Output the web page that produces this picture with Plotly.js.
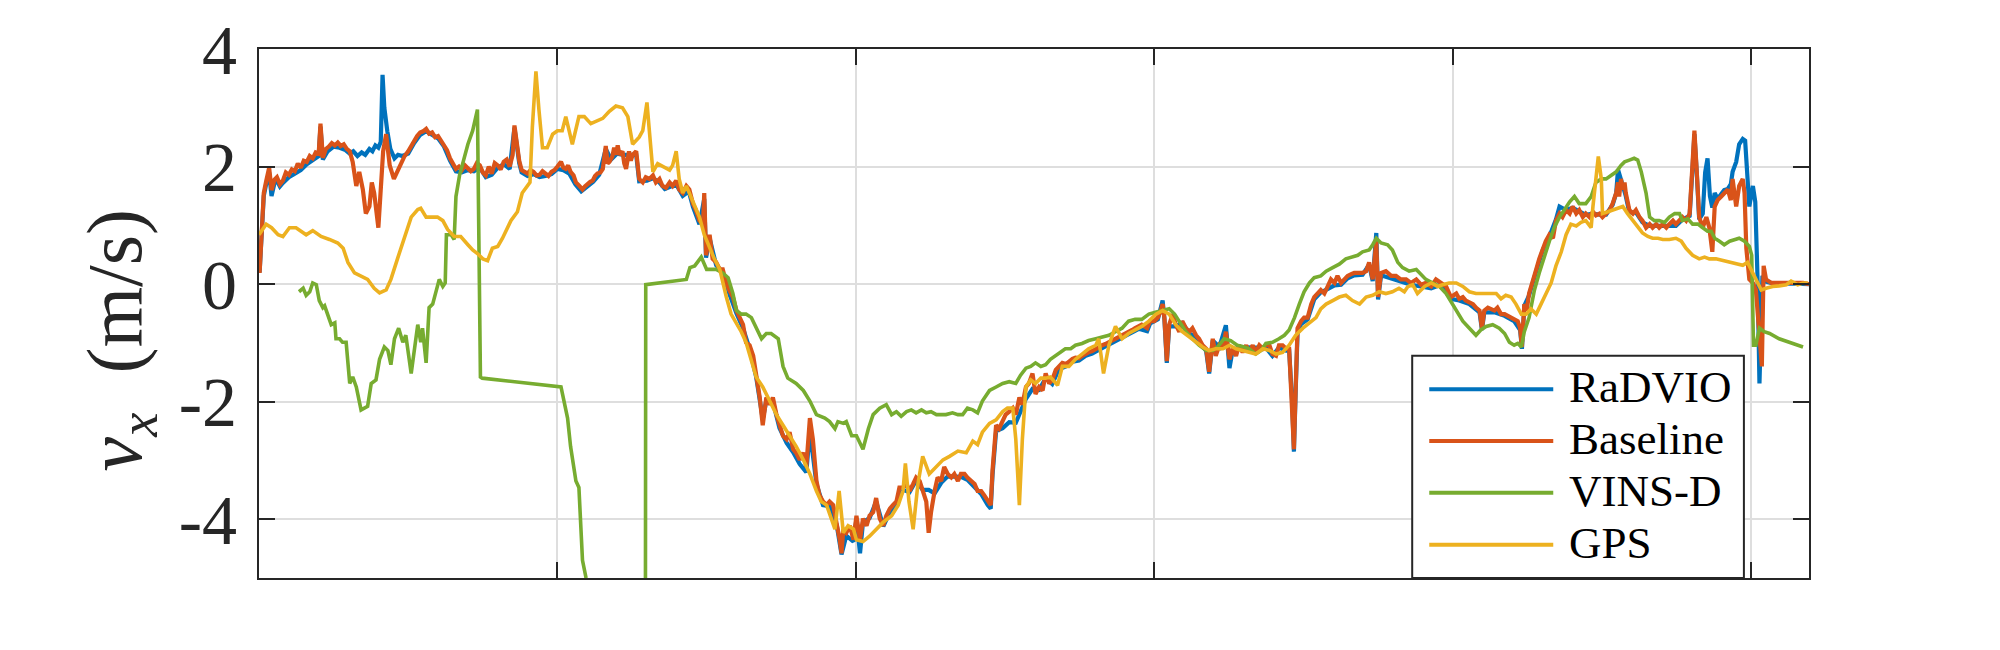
<!DOCTYPE html>
<html>
<head>
<meta charset="utf-8">
<script src="https://cdn.plot.ly/plotly-3.0.1.min.js"></script>
<style>
  html, body { margin: 0; padding: 0; background: #fff; }
  #grafica { width: 2000px; height: 650px; }
</style>
</head>
<body>
<div id="grafica"></div>
<script>
// [t, v_x] (t in s, grid every 50 s)
const radvio = [
  [0.1,0.2],[0.5,1.15],[0.8,1.5],[1.2,1.7],[1.7,1.9],[2.1,1.5],[2.6,1.72],[3.0,1.76],[3.5,1.66],[4.0,1.72],
  [5.0,1.82],[6.0,1.88],[7.0,1.94],[8.0,2.04],[9.0,2.1],[10.0,2.18],[10.3,2.68],[10.7,2.12],[11.5,2.26],[12.5,2.34],
  [13.5,2.32],[14.5,2.28],[15.2,2.22],[15.8,2.26],[16.5,2.18],[17.2,2.24],[17.8,2.2],[18.5,2.3],[19.0,2.26],[19.5,2.36],
  [20.0,2.32],[20.4,2.42],[20.7,3.56],[21.0,3.0],[21.5,2.6],[22.0,2.3],[22.7,2.14],[23.3,2.2],[24.0,2.18],[25.0,2.22],
  [26.0,2.4],[27.0,2.54],[28.0,2.6],[29.0,2.54],[30.0,2.48],[31.0,2.34],[32.0,2.1],[33.0,1.92],[34.0,1.9],[35.0,1.94],
  [36.0,1.92],[37.0,1.98],[38.0,1.82],[39.0,1.86],[40.0,1.98],[41.0,2.04],[42.0,1.96],[42.8,2.66],[43.6,2.06],[44.0,1.9],
  [45.0,1.84],[46.0,1.87],[47.0,1.82],[48.0,1.84],[49.0,1.87],[50.0,1.96],[51.0,1.94],[52.0,1.88],[53.0,1.7],[54.0,1.58],
  [55.0,1.66],[56.0,1.74],[57.0,1.86],[58.1,2.3],[59.0,2.12],[60.0,2.22],[61.0,2.2],[62.0,2.2],[63.2,2.2],[63.7,1.75],
  [65.0,1.76],[66.0,1.8],[67.0,1.74],[68.0,1.62],[69.0,1.66],[70.0,1.68],[71.0,1.5],[72.0,1.58],[72.7,1.32],[73.8,1.02],
  [74.6,1.45],[74.9,0.45],[75.5,0.78],[76.6,0.32],[77.7,0.2],[78.8,-0.16],[80.0,-0.5],[81.1,-0.75],[82.2,-1.1],[83.3,-1.58],
  [84.4,-2.3],[85.0,-1.98],[86.1,-2.0],[87.2,-2.45],[88.4,-2.7],[89.5,-2.86],[90.6,-3.06],[91.7,-3.2],[92.3,-2.5],[93.4,-3.4],
  [94.5,-3.76],[95.6,-3.78],[96.8,-4.1],[97.6,-4.6],[98.4,-4.28],[99.6,-4.38],[100.1,-4.0],[100.7,-4.58],[101.2,-4.05],[102.3,-3.98],
  [103.4,-3.7],[104.6,-4.12],[105.7,-3.88],[106.8,-3.74],[107.9,-3.5],[109.0,-3.54],[110.1,-3.34],[111.2,-3.5],[112.2,-3.5],[113.2,-3.56],
  [114.3,-3.38],[115.4,-3.27],[116.5,-3.28],[117.6,-3.28],[118.7,-3.33],[119.9,-3.45],[121.0,-3.57],[122.1,-3.76],[122.6,-3.82],[122.9,-3.25],
  [123.5,-2.5],[124.6,-2.45],[125.7,-2.35],[126.8,-2.36],[127.4,-2.2],[128.5,-1.95],[129.6,-1.78],[130.7,-1.8],[131.8,-1.6],[132.9,-1.7],
  [134.0,-1.45],[135.2,-1.4],[136.3,-1.32],[137.4,-1.3],[138.5,-1.22],[139.6,-1.18],[140.7,-1.12],[141.8,-1.06],[143.0,-1.0],[144.1,-0.95],
  [145.2,-0.88],[146.3,-0.82],[147.4,-0.76],[148.8,-0.8],[149.3,-0.67],[150.6,-0.6],[151.4,-0.28],[151.7,-0.6],[152.1,-1.34],[152.5,-0.72],
  [153.6,-0.72],[154.7,-0.66],[155.9,-0.84],[157.0,-0.9],[158.1,-1.07],[158.7,-1.14],[159.2,-1.52],[159.8,-0.96],[160.9,-1.07],[162.0,-0.7],
  [162.6,-1.43],[163.1,-1.14],[164.2,-1.07],[165.4,-1.08],[166.5,-1.08],[167.6,-1.08],[168.7,-1.08],[169.8,-1.22],[170.9,-1.08],[172.1,-1.13],
  [172.6,-1.13],[173.1,-2.0],[173.4,-2.85],[173.7,-1.8],[174.0,-0.85],[174.6,-0.68],[175.7,-0.6],[176.8,-0.26],[177.9,-0.14],[179.1,-0.08],
  [180.2,-0.02],[181.3,-0.01],[182.4,0.1],[183.5,0.15],[184.9,0.16],[186.0,0.33],[186.6,0.05],[187.2,0.87],[187.5,-0.26],[188.0,0.15],
  [189.7,0.1],[191.3,0.05],[193.0,-0.01],[194.7,-0.04],[196.4,-0.07],[198.0,-0.01],[199.7,-0.25],[201.1,-0.28],[202.8,-0.34],[204.5,-0.48],
  [204.9,-0.78],[205.3,-0.48],[207.0,-0.48],[208.7,-0.54],[210.3,-0.63],[211.3,-0.78],[211.6,-1.1],[212.0,-0.37],[212.8,-0.19],[214.0,0.22],
  [215.1,0.58],[216.2,0.81],[217.3,1.1],[217.9,1.32],[219.0,1.26],[220.1,1.3],[221.2,1.24],[222.3,1.18],[223.5,1.2],[224.6,1.18],
  [225.7,1.18],[226.8,1.35],[227.4,1.55],[227.7,1.95],[228.2,1.78],[229.0,1.5],[229.6,1.22],[230.7,1.22],[231.8,1.05],[233.0,0.99],
  [234.1,0.99],[235.2,0.99],[236.3,0.99],[237.4,0.99],[238.5,1.1],[239.7,1.16],[240.2,2.0],[240.5,2.55],[240.9,1.88],[241.3,1.1],
  [241.9,1.2],[242.3,1.9],[242.7,2.14],[243.1,1.5],[243.5,1.3],[243.9,1.55],[244.4,1.45],[245.0,1.52],[245.5,1.6],[246.1,1.62],
  [246.6,1.7],[246.9,1.91],[247.5,2.08],[248.0,2.38],[248.6,2.47],[249.0,2.44],[249.3,2.0],[249.7,1.32],[250.0,1.5],[250.3,1.67],
  [250.7,1.4],[251.1,0.02],[251.4,-1.69],[251.7,-0.5],[251.9,0.14],[252.5,0.04],[254.2,0.0],[256.4,0.01],[258.7,0.0],[259.7,0.0]
];

const baseline = [
  [0.1,0.19],[0.5,1.2],[0.8,1.55],[1.2,1.75],[1.7,1.98],[2.1,1.6],[2.6,1.78],[3.0,1.82],[3.5,1.7],[4.0,1.76],
  [4.5,1.9],[5.0,1.86],[5.5,1.95],[6.0,1.92],[6.5,2.05],[7.0,1.98],[7.5,2.1],[8.0,2.08],[8.5,2.18],[9.0,2.14],
  [9.5,2.24],[10.0,2.22],[10.3,2.73],[10.7,2.15],[11.2,2.3],[11.7,2.34],[12.2,2.4],[12.7,2.36],[13.2,2.41],[13.7,2.35],
  [14.2,2.38],[14.7,2.3],[15.2,2.26],[15.7,2.08],[16.3,1.67],[16.8,1.91],[17.4,1.61],[17.9,1.2],[18.5,1.32],[18.9,1.73],
  [19.3,1.55],[20.0,0.96],[20.5,1.67],[20.8,2.26],[21.3,2.55],[21.9,2.02],[22.6,1.79],[23.1,1.91],[23.8,2.08],[24.4,2.18],
  [25.0,2.26],[25.5,2.35],[26.0,2.44],[26.5,2.52],[27.0,2.58],[27.5,2.6],[28.0,2.64],[28.5,2.56],[29.0,2.58],[29.5,2.5],
  [30.0,2.52],[30.5,2.44],[31.0,2.38],[31.5,2.28],[32.0,2.14],[32.5,2.04],[33.0,1.96],[33.5,2.0],[34.0,1.94],[34.5,2.02],
  [35.0,1.98],[35.5,1.92],[36.0,1.96],[36.5,2.06],[37.0,2.02],[37.5,1.9],[38.0,1.85],[38.5,2.0],[39.0,1.88],[39.5,2.06],
  [40.0,2.02],[40.5,1.95],[41.0,2.08],[41.5,2.12],[42.0,2.0],[42.5,2.2],[42.8,2.7],[43.2,2.4],[43.6,2.1],[44.0,1.94],
  [44.5,1.9],[45.0,1.88],[45.5,1.94],[46.0,1.91],[46.5,1.85],[47.0,1.86],[47.5,1.92],[48.0,1.88],[48.5,1.84],[49.0,1.91],
  [49.5,1.94],[50.0,2.0],[50.6,2.08],[51.0,1.98],[51.4,1.96],[51.8,2.02],[52.2,1.91],[52.7,1.85],[53.1,1.73],[53.6,1.68],
  [54.2,1.61],[54.6,1.66],[55.0,1.7],[55.5,1.74],[55.9,1.76],[56.3,1.84],[56.7,1.88],[57.2,1.9],[57.6,1.96],[58.1,2.35],
  [58.4,2.05],[58.7,2.08],[59.2,2.17],[59.5,2.32],[59.8,2.2],[60.1,2.36],[60.4,2.2],[60.9,2.26],[61.2,2.05],[61.5,1.96],
  [62.0,2.26],[62.3,2.1],[62.6,2.2],[63.2,2.26],[63.7,1.79],[64.3,1.73],[64.8,1.82],[65.4,1.79],[66.0,1.85],[66.5,1.73],
  [67.1,1.79],[67.6,1.67],[68.2,1.64],[68.8,1.73],[69.3,1.67],[69.9,1.76],[70.4,1.61],[71.0,1.55],[71.6,1.67],[72.1,1.61],
  [72.7,1.37],[73.2,1.26],[73.8,1.08],[74.4,1.02],[74.6,1.55],[74.9,0.49],[75.5,0.84],[76.0,0.43],[76.6,0.37],[77.2,0.25],
  [77.7,0.25],[78.3,0.02],[78.8,-0.1],[79.4,-0.22],[80.0,-0.45],[80.5,-0.57],[81.1,-0.69],[81.6,-0.99],[82.2,-1.04],[82.8,-1.22],
  [83.3,-1.52],[83.9,-1.93],[84.4,-2.4],[85.0,-1.93],[85.6,-2.05],[86.1,-1.93],[86.7,-2.22],[87.2,-2.4],[87.8,-2.58],[88.4,-2.64],
  [88.9,-2.52],[89.5,-2.81],[90.0,-2.87],[90.6,-2.99],[91.2,-2.87],[91.7,-3.11],[92.3,-2.28],[92.8,-2.64],[93.4,-3.35],[93.9,-3.59],
  [94.5,-3.7],[95.1,-3.76],[95.6,-3.7],[96.2,-3.76],[96.8,-4.05],[97.3,-4.35],[97.6,-4.58],[97.9,-4.17],[98.4,-4.23],[99.0,-4.11],
  [99.6,-4.35],[100.1,-3.94],[100.7,-4.35],[101.2,-3.99],[101.8,-4.11],[102.3,-3.94],[102.9,-3.88],[103.4,-3.64],[104.0,-3.99],[104.6,-4.11],
  [105.1,-3.94],[105.7,-3.82],[106.2,-3.76],[106.8,-3.7],[107.3,-3.46],[107.9,-3.46],[108.5,-3.4],[109.0,-3.52],[109.6,-3.4],[110.1,-3.29],
  [110.7,-3.35],[111.2,-3.52],[111.8,-3.7],[112.2,-4.23],[112.6,-3.88],[113.2,-3.52],[113.7,-3.29],[114.3,-3.35],[114.8,-3.11],[115.4,-3.23],
  [116.0,-3.29],[116.5,-3.23],[117.1,-3.35],[117.6,-3.23],[118.2,-3.23],[118.7,-3.29],[119.3,-3.35],[119.9,-3.4],[120.4,-3.52],[121.0,-3.52],
  [121.5,-3.59],[122.1,-3.7],[122.6,-3.76],[122.9,-3.17],[123.5,-2.4],[124.0,-2.46],[124.6,-2.34],[125.1,-2.22],[125.7,-2.17],[126.3,-2.11],
  [126.8,-2.22],[127.4,-1.93],[127.9,-2.05],[128.5,-1.75],[129.0,-1.69],[129.6,-1.52],[130.1,-1.87],[130.7,-1.75],[131.3,-1.81],[131.8,-1.52],
  [132.4,-1.69],[132.9,-1.63],[133.5,-1.46],[134.0,-1.4],[134.6,-1.34],[135.2,-1.36],[135.7,-1.31],[136.3,-1.27],[136.8,-1.25],[137.4,-1.26],
  [137.9,-1.22],[138.5,-1.18],[139.0,-1.16],[139.6,-1.14],[140.2,-1.1],[140.7,-1.07],[141.3,-1.04],[141.8,-1.02],[142.4,-0.99],[143.0,-0.95],
  [143.5,-0.93],[144.1,-0.9],[144.6,-0.87],[145.2,-0.84],[145.7,-0.81],[146.3,-0.78],[146.8,-0.75],[147.4,-0.72],[147.9,-0.69],[148.8,-0.75],
  [149.3,-0.63],[150.0,-0.63],[150.6,-0.57],[151.1,-0.45],[151.4,-0.34],[151.7,-0.57],[152.1,-1.31],[152.5,-0.69],[153.1,-0.51],[153.6,-0.69],
  [154.2,-0.81],[154.7,-0.63],[155.3,-0.75],[155.9,-0.81],[156.4,-0.75],[157.0,-0.87],[157.5,-0.93],[158.1,-1.04],[158.7,-1.1],[159.2,-1.49],
  [159.8,-0.93],[160.3,-1.22],[160.9,-1.04],[161.5,-1.1],[162.0,-0.81],[162.6,-1.28],[163.1,-1.1],[163.7,-1.22],[164.2,-1.04],[164.8,-1.16],
  [165.4,-1.04],[165.9,-1.16],[166.5,-1.04],[167.0,-1.16],[167.6,-1.04],[168.2,-1.1],[168.7,-1.04],[169.3,-1.04],[169.8,-1.19],[170.4,-1.22],
  [170.9,-1.04],[171.5,-1.04],[172.1,-1.1],[172.6,-1.1],[173.1,-1.99],[173.4,-2.81],[173.7,-1.75],[174.0,-0.75],[174.6,-0.63],[175.1,-0.57],
  [175.7,-0.57],[176.3,-0.34],[176.8,-0.22],[177.4,-0.16],[177.9,-0.1],[178.5,-0.16],[179.1,-0.04],[179.6,0.08],[180.2,0.02],[180.7,0.14],
  [181.3,0.02],[181.8,0.08],[182.4,0.14],[183.0,0.17],[183.5,0.19],[184.1,0.19],[184.9,0.19],[185.5,0.22],[186.0,0.37],[186.6,0.08],
  [187.2,0.73],[187.5,-0.22],[188.0,0.19],[188.8,0.22],[189.7,0.14],[190.5,0.14],[191.3,0.08],[192.2,0.08],[193.0,0.02],[193.9,0.08],
  [194.7,-0.01],[195.5,0.02],[196.4,-0.04],[197.2,0.08],[198.0,0.02],[198.9,-0.04],[199.7,-0.22],[200.6,-0.16],[201.1,-0.25],[201.7,-0.22],
  [202.2,-0.28],[202.8,-0.31],[203.4,-0.34],[203.9,-0.4],[204.5,-0.45],[204.9,-0.75],[205.3,-0.45],[205.9,-0.4],[206.4,-0.42],[207.0,-0.45],
  [207.5,-0.4],[208.1,-0.51],[208.7,-0.51],[209.2,-0.54],[209.8,-0.57],[210.3,-0.6],[210.9,-0.63],[211.3,-0.75],[211.6,-1.07],[212.0,-0.34],
  [212.4,-0.45],[212.8,-0.16],[213.4,0.08],[214.0,0.25],[214.5,0.43],[215.1,0.61],[215.6,0.73],[216.2,0.84],[216.8,0.78],[217.3,1.08],
  [217.9,1.2],[218.4,1.14],[219.0,1.26],[219.6,1.2],[220.1,1.32],[220.7,1.2],[221.2,1.26],[221.8,1.14],[222.3,1.2],[222.9,1.14],
  [223.5,1.23],[224.0,1.17],[224.6,1.2],[225.1,1.14],[225.7,1.2],[226.3,1.26],[226.8,1.37],[227.4,1.55],[227.7,1.73],[227.9,1.49],
  [228.2,1.79],[228.5,1.61],[228.8,1.73],[229.0,1.55],[229.6,1.26],[230.2,1.2],[230.7,1.26],[231.3,1.14],[231.8,1.08],[232.4,0.96],
  [233.0,1.02],[233.5,0.96],[234.1,1.02],[234.6,0.96],[235.2,1.02],[235.8,0.96],[236.3,1.02],[236.9,1.08],[237.4,1.02],[238.0,1.08],
  [238.5,1.14],[239.1,1.08],[239.7,1.2],[240.2,2.08],[240.5,2.61],[240.9,1.91],[241.3,1.14],[241.9,0.96],[242.5,1.14],[243.0,0.96],
  [243.5,0.55],[243.9,1.32],[244.4,1.43],[245.0,1.49],[245.5,1.55],[246.1,1.61],[246.6,1.43],[246.9,1.79],[247.5,1.32],[248.0,1.67],
  [248.6,1.79],[248.9,1.55],[249.2,0.61],[249.7,0.08],[250.3,0.02],[250.8,-0.1],[251.4,-0.87],[251.8,-1.4],[252.1,0.31],[252.5,0.08],
  [253.4,0.02],[254.2,0.02],[255.3,0.02],[256.4,0.02],[257.5,0.02],[258.7,0.02],[259.7,0.0]
];

const vinsD = [
  [6.7,-0.13],[7.4,-0.07],[7.9,-0.19],[8.5,-0.13],[9.0,0.02],[9.6,-0.01],[10.1,-0.28],[10.7,-0.4],[11.0,-0.37],[11.5,-0.51],
  [12.1,-0.69],[12.7,-0.66],[12.9,-0.93],[13.5,-0.93],[14.0,-0.99],[14.6,-0.99],[15.2,-1.69],[15.7,-1.58],[16.3,-1.75],[17.1,-2.14],
  [18.2,-2.08],[18.8,-1.69],[19.6,-1.63],[20.2,-1.28],[21.0,-1.07],[21.6,-1.13],[22.1,-1.37],[22.7,-0.93],[23.4,-0.75],[24.1,-0.99],
  [24.6,-0.87],[25.5,-1.52],[26.0,-1.16],[26.6,-0.69],[27.1,-0.99],[27.4,-0.75],[28.0,-1.34],[28.5,-0.4],[29.1,-0.34],[29.7,-0.1],
  [30.2,0.08],[30.8,-0.04],[31.2,0.02],[31.4,0.84],[32.2,0.84],[32.7,0.76],[33.0,1.49],[33.6,1.85],[34.4,2.14],[35.0,2.38],
  [35.8,2.61],[36.6,2.97],[37.1,-1.58],[37.4,-1.6],[50.6,-1.75],[51.7,-2.28],[52.2,-2.76],[53.1,-3.35],[53.6,-3.46],[54.2,-4.7],
  [54.8,-5.0],[60.0,null],[64.75,-5.0],[64.8,-0.01],[71.6,0.08],[72.2,0.28],[73.0,0.31],[74.1,0.46],[75.0,0.25],[76.6,0.25],
  [77.7,0.19],[78.6,0.11],[79.4,-0.16],[80.0,-0.45],[80.8,-0.51],[81.6,-0.51],[82.5,-0.57],[83.3,-0.75],[84.2,-0.93],[85.0,-0.84],
  [85.8,-0.84],[87.0,-0.93],[87.8,-1.4],[88.6,-1.6],[90.0,-1.69],[91.2,-1.81],[92.3,-1.99],[93.4,-2.22],[94.8,-2.28],[95.6,-2.34],
  [96.5,-2.46],[97.0,-2.34],[97.9,-2.37],[98.4,-2.34],[99.3,-2.58],[100.1,-2.58],[101.2,-2.81],[102.1,-2.46],[102.9,-2.22],[104.0,-2.11],
  [105.1,-2.05],[106.0,-2.22],[106.8,-2.17],[107.6,-2.25],[108.5,-2.17],[109.3,-2.14],[110.1,-2.19],[111.0,-2.14],[111.8,-2.19],[112.6,-2.17],
  [113.5,-2.22],[114.3,-2.22],[115.1,-2.22],[116.2,-2.19],[117.1,-2.22],[117.9,-2.22],[118.7,-2.11],[119.6,-2.14],[120.4,-2.19],[121.2,-1.99],
  [122.4,-1.81],[123.5,-1.75],[124.6,-1.69],[125.7,-1.66],[126.8,-1.69],[127.6,-1.55],[128.5,-1.43],[129.3,-1.4],[130.1,-1.34],[131.0,-1.4],
  [131.8,-1.37],[132.6,-1.28],[133.5,-1.22],[134.3,-1.16],[135.1,-1.1],[136.0,-1.1],[136.8,-1.04],[137.9,-1.01],[139.0,-0.96],[140.2,-0.93],
  [141.3,-0.9],[142.4,-0.87],[143.5,-0.81],[144.6,-0.75],[145.7,-0.63],[146.8,-0.6],[147.9,-0.6],[149.1,-0.51],[150.2,-0.48],[151.4,-0.45],
  [152.5,-0.42],[153.4,-0.51],[154.2,-0.63],[155.3,-0.81],[156.4,-0.93],[157.5,-1.04],[158.7,-1.13],[159.8,-1.13],[160.6,-1.07],[161.7,-0.93],
  [162.8,-0.96],[163.9,-1.04],[165.1,-1.07],[165.9,-1.1],[167.0,-1.19],[167.9,-1.13],[168.7,-1.01],[169.8,-0.99],[170.9,-0.93],[171.8,-0.87],
  [172.6,-0.78],[173.5,-0.57],[174.3,-0.34],[175.1,-0.13],[176.0,0.02],[176.8,0.11],[177.9,0.14],[178.8,0.22],[179.9,0.28],[181.0,0.34],
  [182.1,0.43],[183.2,0.46],[184.1,0.49],[184.9,0.55],[186.0,0.58],[186.6,0.67],[187.2,0.78],[188.0,0.7],[189.1,0.67],[189.9,0.58],
  [190.8,0.37],[191.6,0.28],[192.7,0.22],[193.9,0.25],[194.7,0.17],[195.5,0.08],[196.6,0.02],[197.8,-0.04],[198.9,-0.16],[200.0,-0.34],
  [200.6,-0.45],[201.7,-0.63],[202.8,-0.75],[203.9,-0.87],[204.7,-0.78],[205.6,-0.72],[206.7,-0.69],[207.8,-0.75],[208.7,-0.84],[209.5,-0.99],
  [210.3,-1.04],[210.9,-1.01],[211.5,-1.07],[212.0,-0.81],[212.8,-0.57],[213.7,-0.1],[214.5,0.19],[215.4,0.49],[216.2,0.73],[217.0,0.96],
  [217.9,1.14],[218.7,1.26],[219.6,1.4],[220.4,1.49],[221.2,1.37],[222.3,1.37],[223.2,1.49],[224.0,1.73],[224.9,1.79],[225.7,1.79],
  [226.5,1.85],[227.4,1.91],[228.2,2.02],[228.8,2.08],[229.6,2.11],[230.4,2.14],[231.0,2.11],[231.6,1.91],[232.4,1.55],[233.0,1.14],
  [233.8,1.08],[234.6,1.08],[235.5,1.05],[236.3,1.14],[237.2,1.2],[238.0,1.2],[238.5,1.08],[239.4,1.11],[240.2,1.02],[241.1,1.02],
  [241.9,0.96],[242.7,0.9],[243.3,0.9],[243.9,0.78],[244.7,0.73],[245.5,0.67],[246.4,0.73],[247.2,0.76],[248.0,0.78],[248.9,0.73],
  [249.7,0.64],[250.1,0.49],[250.4,-1.04],[250.8,-1.04],[251.4,-0.75],[252.2,-0.81],[253.1,-0.84],[254.7,-0.93],[256.4,-0.99],[257.8,-1.04],
  [258.7,-1.07]
];

const gps = [
  [0.0,0.84],[1.2,1.02],[2.1,0.96],[3.2,0.84],[4.0,0.81],[5.1,0.96],[6.2,0.96],[7.9,0.84],[9.0,0.91],[10.4,0.81],
  [11.8,0.76],[13.2,0.7],[14.1,0.61],[14.9,0.37],[16.0,0.19],[17.1,0.14],[18.2,0.08],[19.3,-0.07],[20.2,-0.15],[21.3,-0.1],
  [22.1,0.08],[23.2,0.43],[24.4,0.78],[25.5,1.14],[26.6,1.27],[27.1,1.29],[28.0,1.14],[28.8,1.14],[29.9,1.14],[30.8,1.08],
  [31.6,0.93],[32.7,0.81],[33.8,0.81],[35.0,0.67],[35.8,0.58],[36.6,0.52],[37.5,0.43],[38.3,0.4],[39.1,0.61],[40.0,0.64],
  [40.8,0.78],[42.2,1.08],[43.3,1.23],[44.1,1.55],[45.0,1.67],[45.4,1.73],[45.8,2.67],[46.4,3.62],[46.9,2.97],[47.5,2.32],
  [48.3,2.32],[49.2,2.55],[50.0,2.61],[50.8,2.61],[51.4,2.85],[52.5,2.38],[53.6,2.85],[54.5,2.85],[55.6,2.73],[57.6,2.82],
  [58.7,2.94],[59.8,3.03],[60.9,3.0],[61.8,2.85],[62.6,2.38],[63.7,2.5],[64.3,2.61],[65.0,3.09],[65.4,2.61],[66.0,1.91],
  [66.8,2.05],[67.9,1.99],[68.8,1.94],[69.3,2.02],[69.9,2.26],[70.4,1.79],[71.0,1.55],[71.6,1.67],[72.1,1.55],[73.0,1.37],
  [73.8,1.14],[74.6,0.84],[75.5,0.61],[76.3,0.43],[77.2,0.25],[77.7,0.02],[78.3,-0.22],[79.1,-0.51],[80.0,-0.66],[80.8,-0.81],
  [81.6,-0.99],[82.5,-1.28],[83.3,-1.58],[84.4,-1.75],[85.6,-1.99],[86.7,-2.22],[87.8,-2.4],[88.9,-2.58],[90.0,-2.76],[91.2,-2.99],
  [92.3,-3.23],[93.4,-3.52],[94.2,-3.7],[95.1,-3.76],[95.9,-3.99],[96.5,-4.17],[97.2,-3.52],[97.9,-4.23],[98.7,-4.11],[99.6,-4.17],
  [100.1,-4.35],[101.2,-4.38],[102.3,-4.29],[103.4,-4.17],[104.6,-4.05],[106.0,-3.94],[107.1,-3.76],[107.9,-3.52],[108.3,-3.05],[108.9,-3.7],
  [109.6,-4.17],[110.4,-3.4],[111.2,-2.93],[112.3,-3.23],[113.5,-3.11],[114.6,-2.99],[115.7,-2.93],[117.1,-2.84],[118.5,-2.87],[119.6,-2.67],
  [120.4,-2.73],[121.2,-2.52],[122.4,-2.37],[123.5,-2.31],[124.6,-2.17],[125.4,-2.11],[126.3,-2.11],[126.8,-2.64],[127.4,-3.76],[127.9,-2.64],
  [128.5,-1.75],[129.3,-1.63],[130.1,-1.69],[131.0,-1.6],[131.8,-1.6],[132.6,-1.58],[133.8,-1.72],[134.6,-1.4],[135.7,-1.4],[136.8,-1.28],
  [137.9,-1.19],[139.0,-1.1],[140.2,-1.04],[140.7,-0.93],[141.5,-1.52],[142.4,-1.04],[143.5,-0.72],[144.6,-0.93],[145.7,-0.84],[146.8,-0.78],
  [147.9,-0.72],[149.1,-0.63],[150.3,-0.51],[151.4,-0.45],[152.5,-0.51],[153.6,-0.69],[154.7,-0.81],[155.9,-0.9],[157.0,-0.99],[158.1,-1.07],
  [159.2,-1.13],[160.3,-1.1],[161.5,-1.1],[162.6,-1.04],[163.7,-1.1],[164.8,-1.13],[165.9,-1.16],[167.0,-1.19],[168.2,-1.1],[169.3,-1.13],
  [170.4,-1.19],[171.5,-1.16],[172.6,-1.04],[173.7,-0.87],[174.9,-0.75],[176.0,-0.66],[177.1,-0.57],[177.9,-0.42],[178.8,-0.34],[179.9,-0.28],
  [181.0,-0.22],[182.1,-0.19],[183.2,-0.28],[184.4,-0.34],[185.5,-0.22],[186.6,-0.19],[187.7,-0.13],[188.8,-0.16],[189.9,-0.13],[191.0,-0.07],
  [191.9,-0.13],[192.5,-0.04],[193.3,-0.01],[194.1,-0.16],[195.3,-0.04],[196.4,0.02],[197.5,-0.04],[198.3,-0.01],[199.4,0.02],[200.6,0.02],
  [201.7,-0.04],[202.8,-0.13],[203.9,-0.16],[205.0,-0.16],[206.1,-0.16],[207.3,-0.16],[208.1,-0.25],[208.9,-0.19],[209.8,-0.22],[210.6,-0.34],
  [211.5,-0.51],[212.3,-0.51],[213.1,-0.42],[214.0,-0.51],[214.8,-0.34],[215.6,-0.16],[216.5,0.02],[217.3,0.31],[218.2,0.55],[219.0,0.84],
  [219.8,1.02],[220.7,0.99],[221.5,1.05],[222.3,1.08],[223.2,0.96],[223.5,1.32],[224.0,1.79],[224.4,2.17],[224.9,1.79],[225.1,1.2],
  [226.0,1.23],[226.8,1.26],[227.7,1.29],[228.5,1.32],[229.3,1.2],[230.2,1.08],[231.0,0.96],[231.8,0.87],[232.7,0.81],[233.5,0.78],
  [234.4,0.78],[235.2,0.76],[236.3,0.76],[237.4,0.78],[238.3,0.73],[239.1,0.61],[240.2,0.49],[241.3,0.43],[242.2,0.46],[243.0,0.43],
  [244.1,0.43],[245.3,0.4],[246.4,0.37],[247.5,0.34],[248.6,0.32],[249.4,0.37],[250.0,0.25],[250.8,0.08],[251.7,-0.1],[252.5,-0.07],
  [253.6,-0.04],[254.7,-0.03],[255.9,-0.01],[256.7,0.05],[257.3,0.02],[257.8,-0.01],[258.7,0.02],[259.5,0.02]
];

const nombres = ['RaDVIO', 'Baseline', 'VINS-D', 'GPS'];
const colores = ['#0072BD', '#D95319', '#77AC30', '#EDB120'];
const grosores = [4.2, 4.2, 3.6, 3.6];
const yTickVals = [-4, -2, 0, 2, 4];
const yTickText = ['-4', '-2', '0', '2', '4'];
const xGrid = [0, 50, 100, 150, 200, 250];

const series = [radvio, baseline, vinsD, gps];
const serif = 'Liberation Serif';
const ejeColor = '#262626';

const traces = series.map((s, i) => ({
    x: s.map(p => p[0]),
    y: s.map(p => p[1]),
    type: 'scatter',
    mode: 'lines',
    name: nombres[i],
    connectgaps: false,
    line: { color: colores[i], width: grosores[i] }
}));

// leyenda dibujada a mano (caja, muestras de linea y textos en coordenadas de papel)
const leyCaja = { x0: 0.744, x1: 0.958, y0: 0.0, y1: 0.42 };
const leyLinea = { x0: 0.755, x1: 0.835 };
const leyTextoX = 0.844;
const leyFilas = [0.357, 0.259, 0.161, 0.063];

const shapes = [{
    type: 'rect', xref: 'paper', yref: 'paper', layer: 'above',
    x0: leyCaja.x0, x1: leyCaja.x1, y0: leyCaja.y0, y1: leyCaja.y1,
    fillcolor: '#ffffff', line: { color: ejeColor, width: 2 }
}];
nombres.forEach((n, i) => {
    shapes.push({
        type: 'line', xref: 'paper', yref: 'paper', layer: 'above',
        x0: leyLinea.x0, x1: leyLinea.x1, y0: leyFilas[i], y1: leyFilas[i],
        line: { color: colores[i], width: 4 }
    });
});

const annotations = nombres.map((n, i) => ({
    xref: 'paper', yref: 'paper',
    x: leyTextoX, y: leyFilas[i] + 0.004,
    xanchor: 'left', yanchor: 'middle',
    showarrow: false,
    text: n,
    font: { family: serif, size: 45, color: '#000000' }
}));
annotations.push({
    xref: 'paper', yref: 'paper',
    x: -0.09, y: 0.45,
    xanchor: 'center', yanchor: 'middle',
    textangle: -90,
    showarrow: false,
    text: '<i>v</i><sub><i>x</i></sub>\u00a0\u00a0(m/s)',
    font: { family: serif, size: 78, color: ejeColor }
});

const layout = {
    width: 2000,
    height: 650,
    margin: { l: 259, r: 191, t: 49, b: 72 },
    paper_bgcolor: '#ffffff',
    plot_bgcolor: '#ffffff',
    font: { family: serif, color: ejeColor },
    showlegend: false,
    xaxis: {
        range: [0, 259.7],
        tickvals: xGrid,
        showticklabels: false,
        ticks: 'inside',
        ticklen: 16,
        tickwidth: 2,
        tickcolor: ejeColor,
        showline: true,
        linecolor: ejeColor,
        linewidth: 2,
        mirror: 'ticks',
        showgrid: true,
        gridcolor: '#dedede',
        gridwidth: 2,
        zeroline: false
    },
    yaxis: {
        range: [-5, 4],
        tickvals: yTickVals,
        ticktext: yTickText,
        ticks: 'inside',
        ticklen: 16,
        tickwidth: 2,
        tickcolor: ejeColor,
        ticklabelstandoff: 6,
        tickfont: { family: serif, size: 70, color: ejeColor },
        showline: true,
        linecolor: ejeColor,
        linewidth: 2,
        mirror: 'ticks',
        showgrid: true,
        gridcolor: '#dedede',
        gridwidth: 2,
        zeroline: false
    },
    shapes: shapes,
    annotations: annotations
};

Plotly.newPlot('grafica', traces, layout, { displayModeBar: false, staticPlot: true });
</script>
</body>
</html>
